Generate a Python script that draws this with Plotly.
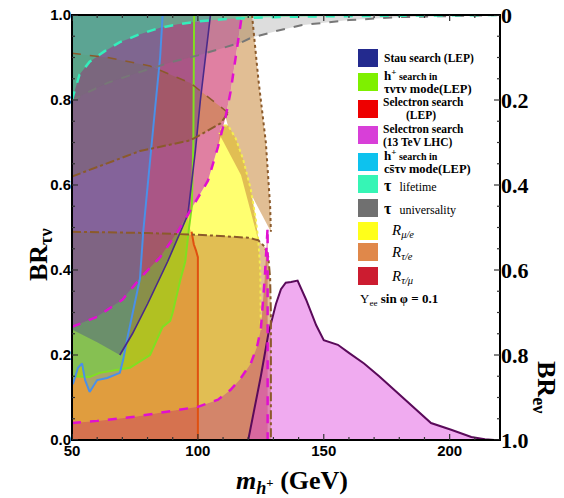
import plotly.graph_objects as go

# ---------------- data (x: m_h+ in GeV, y: BR_tau nu) ----------------
lifetime_x = [50, 53, 57, 63, 69, 77, 85, 92, 100, 110, 120, 130, 150, 180, 220]
lifetime_y = [0.80, 0.86, 0.89, 0.915, 0.936, 0.955, 0.97, 0.978, 0.985, 0.99, 0.993, 0.995, 0.997, 0.999, 1.0]

univ_x = [50, 64, 77, 90, 100, 110, 117, 121, 131, 141, 160, 180, 220]
univ_y = [0.80, 0.84, 0.866, 0.89, 0.905, 0.922, 0.935, 0.946, 0.962, 0.976, 0.988, 0.995, 1.0]

stau_x = [105, 103, 101, 99, 96, 88, 80, 74, 69, 60, 50]
stau_y = [1.0, 0.9, 0.8, 0.68, 0.53, 0.42, 0.32, 0.25, 0.2, 0.23, 0.26]

green_x = [50, 57, 61, 73, 81, 86, 89, 90, 93, 95, 96.5, 97.6, 98.2, 98.5]
green_y = [0.15, 0.148, 0.158, 0.17, 0.20, 0.266, 0.28, 0.30, 0.376, 0.42, 0.50, 0.55, 0.70, 1.0]

selLEP_x = [100, 100, 99.3, 98.4, 97.5]
selLEP_y = [0.0, 0.43, 0.445, 0.46, 0.49]

lhc_x = [120, 122, 125, 128, 131, 133, 134.9, 137, 139.6, 143, 147, 150, 155.6, 160, 166, 172, 179.5, 186, 192.6, 200.6, 208.6, 214, 217.7]
lhc_y = [0.0, 0.06, 0.15, 0.25, 0.32, 0.355, 0.37, 0.372, 0.375, 0.33, 0.27, 0.235, 0.224, 0.205, 0.18, 0.15, 0.11, 0.075, 0.04, 0.024, 0.007, 0.002, 0.0]

cstv_x = [86, 85, 83, 81, 80, 78.3, 77, 74, 72, 70.3, 69, 64, 60, 57, 55.2, 54, 52.4, 50.5, 50]
cstv_y = [1.0, 0.9, 0.78, 0.66, 0.61, 0.49, 0.38, 0.30, 0.24, 0.188, 0.158, 0.146, 0.141, 0.113, 0.141, 0.18, 0.17, 0.134, 0.13]

low_mag_x = [50, 60, 75, 90, 100, 108, 113, 117, 121, 123.5, 125, 126.5, 127.5]
low_mag_y = [0.04, 0.045, 0.055, 0.068, 0.078, 0.095, 0.118, 0.145, 0.18, 0.22, 0.26, 0.376, 0.5]

up_mag_x = [50, 60, 70, 77, 85, 92, 96, 100, 104, 108, 111, 113, 115.5, 117, 117.5]
up_mag_y = [0.266, 0.29, 0.33, 0.38, 0.43, 0.49, 0.53, 0.57, 0.61, 0.69, 0.76, 0.82, 0.92, 0.99, 1.0]

yel_edge_x = [125, 125, 124.8, 124, 123, 121, 118, 115, 112, 110, 108.5]
yel_edge_y = [0.26, 0.3, 0.4, 0.47, 0.52, 0.59, 0.66, 0.71, 0.74, 0.74, 0.72]

rte_low_x = [50, 80, 100, 110, 120, 124, 126.5, 128, 128.7, 129, 129]
rte_low_y = [0.49, 0.487, 0.483, 0.48, 0.476, 0.47, 0.455, 0.43, 0.38, 0.3, 0.0]

rte_L_x = [50, 77, 97, 109, 112]
rte_L_y = [0.62, 0.68, 0.705, 0.745, 0.77]
rte_U_x = [112, 97, 81, 64, 50]
rte_U_y = [0.77, 0.84, 0.88, 0.90, 0.91]

tan_edge_x = [121.5, 124, 127, 128.7, 129]
tan_edge_y = [1.0, 0.85, 0.7, 0.55, 0.49]

# axes ticks
x_major = [50, 100, 150, 200]
x_minor = [v for v in range(60, 220, 10) if v not in (100, 150, 200)]
y_major = [0.0, 0.2, 0.4, 0.6, 0.8, 1.0]
y_major_text = ["0.0", "0.2", "0.4", "0.6", "0.8", "1.0"]
y_minor = [0.05, 0.1, 0.15, 0.25, 0.3, 0.35, 0.45, 0.5, 0.55, 0.65, 0.7, 0.75, 0.85, 0.9, 0.95]
right_text = ["0", "0.2", "0.4", "0.6", "0.8", "1.0"]

# legend
leg_colors = ["#232a8e", "#7ef000", "#ee0000", "#d83fd8", "#0dc2ee", "#36f5b5", "#707070", "#ffff1a", "#e0884a", "#cc1c30"]
leg_centers = [58, 82, 109, 135, 162, 184, 208, 231, 252, 276]

fig = go.Figure()

def region(xs, ys, color):
    fig.add_trace(go.Scatter(x=xs, y=ys, fill="toself", fillcolor=color, mode="lines",
                             line=dict(width=0), showlegend=False, hoverinfo="skip"))

def boundary(xs, ys, color, width, dash="solid"):
    fig.add_trace(go.Scatter(x=xs, y=ys, mode="lines", line=dict(color=color, width=width, dash=dash),
                             showlegend=False, hoverinfo="skip"))

# R mu/e (yellow)
region(low_mag_x[:11] + yel_edge_x + up_mag_x[:10][::-1],
       low_mag_y[:11] + yel_edge_y + up_mag_y[:10][::-1], "rgba(255,255,51,0.7)")
# R tau/mu (crimson)
region(low_mag_x + [127.7, 127.7, 50], low_mag_y + [0.5, 0.0, 0.0], "rgba(205,50,105,0.62)")
region(up_mag_x + [50], up_mag_y + [1.0], "rgba(205,50,105,0.62)")
# R tau/e (orange)
region([50] + rte_low_x + [50], [0.0] + rte_low_y + [0.0], "rgba(200,136,60,0.55)")
region(rte_L_x + rte_U_x, rte_L_y + rte_U_y, "rgba(200,136,60,0.55)")
region(up_mag_x[10:] + tan_edge_x + yel_edge_x[3:][::-1],
       up_mag_y[10:] + tan_edge_y + yel_edge_y[3:][::-1], "rgba(200,136,60,0.55)")
# selectron LEP
region([50] + selLEP_x + green_x[10:] + [50], [0.0] + selLEP_y + green_y[10:] + [1.0], "rgba(224,60,0,0.25)")
# selectron LHC
region(lhc_x, lhc_y, "rgba(221,68,221,0.45)")
# h+ -> tau nu (LEP)
region(green_x[:11] + up_mag_x[:7][::-1], green_y[:11] + up_mag_y[:7][::-1], "rgba(119,238,0,0.45)")
# h+ -> c s tau nu (LEP)
region(cstv_x + [50], cstv_y + [1.0], "rgba(0,190,238,0.24)")
# stau
region(stau_x + [50], stau_y + [1.0], "rgba(45,30,165,0.3)")
# tau universality
region(univ_x + [220, 50], univ_y + [1.0, 1.0], "rgba(112,112,112,0.24)")
# tau lifetime
region(lifetime_x + [50], lifetime_y + [1.0], "rgba(51,240,150,0.45)")

# boundaries
boundary(lhc_x, lhc_y, "#5a0a5a", 2)
boundary(selLEP_x, selLEP_y, "#e05010", 2)
boundary(green_x, green_y, "#80e020", 2)
boundary(cstv_x, cstv_y, "#4a90e8", 2)
boundary(stau_x[:9], stau_y[:9], "#4a2a8a", 1.6)
boundary(yel_edge_x, yel_edge_y, "#f4ee50", 2, "dot")
boundary(rte_low_x, rte_low_y, "#8b5a2b", 2, "dashdot")
boundary(rte_L_x, rte_L_y, "#8b5a2b", 2, "dashdot")
boundary(rte_U_x, rte_U_y, "#8b5a2b", 1.5, "dash")
boundary(tan_edge_x, tan_edge_y, "#8b5a2b", 2, "dot")
boundary(univ_x, univ_y, "#777777", 2, "dash")
boundary(low_mag_x + [127.7, 127.7], low_mag_y + [0.5, 0.0], "#e010d0", 2.5, "dash")
boundary(up_mag_x, up_mag_y, "#e010d0", 2.5, "dash")
boundary(lifetime_x, lifetime_y, "#33eebb", 2.5, "dash")

W, H = 564, 498
L, R, T, B = 72, 64, 15, 58

def px(x):
    return (x - 72) / 428

def py(y):
    return (440 - y) / 425

# frame and inside ticks (all four sides)
fig.add_shape(type="rect", xref="paper", yref="paper", x0=0, x1=1, y0=0, y1=1,
              line=dict(color="black", width=2), layer="above")
for vals, ln in ((x_major, 6), (x_minor, 3)):
    for v in vals:
        for y0, y1 in ((0, ln / 425), (1, 1 - ln / 425)):
            fig.add_shape(type="line", xref="x", yref="paper", x0=v, x1=v, y0=y0, y1=y1,
                          line=dict(color="#333", width=1.2), layer="above")
for vals, ln in ((y_major, 6), (y_minor, 3)):
    for v in vals:
        for x0, x1 in ((0, ln / 428), (1, 1 - ln / 428)):
            fig.add_shape(type="line", xref="paper", yref="y", x0=x0, x1=x1, y0=v, y1=v,
                          line=dict(color="#333", width=1.2), layer="above")

for c, yc in zip(leg_colors, leg_centers):
    fig.add_shape(type="rect", xref="paper", yref="paper", x0=px(358), x1=px(378),
                  y0=py(yc + 9), y1=py(yc - 9), fillcolor=c, line=dict(width=0))

serif = "Liberation Serif"
def txt(x, y, s, size=12, anchor="left"):
    fig.add_annotation(xref="paper", yref="paper", x=px(x), y=py(y), text=s, showarrow=False,
                       xanchor=anchor, yanchor="middle", font=dict(family=serif, size=size, color="black"))

txt(382, 58, "<b>Stau search (LEP)</b>", 11.5)
txt(382, 75, "<b>h<sup>+</sup></b><span style='font-size:10px'><b> search in</b></span>", 13)
txt(382, 89, "<b>τντν mode(LEP)</b>", 12.5)
txt(381, 102, "<b>Selectron search</b>", 11.5)
txt(404, 115, "<b>(LEP)</b>", 11.5)
txt(381, 129, "<b>Selectron search</b>", 11.5)
txt(381, 142, "<b>(13 TeV LHC)</b>", 11.5)
txt(382, 155, "<b>h<sup>+</sup></b><span style='font-size:10px'><b> search in</b></span>", 13)
txt(382, 169, "<b>cs̄τν mode(LEP)</b>", 12.5)
txt(382, 185, "<b>τ</b>  <span style='font-size:12px'>lifetime</span>", 16)
txt(382, 208, "<b>τ</b>  <span style='font-size:12px'>universality</span>", 16)
txt(389, 231, "<i>R</i><sub><i>μ/e</i></sub>", 15)
txt(389, 253, "<i>R</i><sub><i>τ/e</i></sub>", 15)
txt(389, 277, "<i>R</i><sub><i>τ/μ</i></sub>", 15)
txt(358, 299, "Y<sub>ee</sub> <b>sin φ = 0.1</b>", 13)

fig.add_annotation(xref="paper", yref="paper", x=px(22), y=py(255), text="<b>BR<sub>τν</sub></b>",
                   showarrow=False, textangle=-90, font=dict(family=serif, size=26, color="black"))
fig.add_annotation(xref="paper", yref="paper", x=px(563), y=py(415), text="<b>BR<sub>eν</sub></b>",
                   showarrow=False, textangle=90, font=dict(family=serif, size=26, color="black"))
fig.add_annotation(xref="paper", yref="paper", x=px(292), y=py(500),
                   text="<b><i>m</i><sub><i>h</i><sup>+</sup></sub> (GeV)</b>",
                   showarrow=False, font=dict(family=serif, size=26, color="black"))

fig.add_trace(go.Scatter(x=[50], y=[0], yaxis="y2", mode="markers", marker=dict(opacity=0),
                         showlegend=False, hoverinfo="skip"))

fig.update_layout(
    width=W, height=H, margin=dict(l=L, r=R, t=T, b=B, autoexpand=False),
    paper_bgcolor="white", plot_bgcolor="white", showlegend=False,
    xaxis=dict(range=[50, 220], tickvals=x_major, ticks="", showline=False, showgrid=False,
               zeroline=False, ticklabeloverflow="allow",
               tickfont=dict(family="Liberation Sans", size=15, color="black", weight="bold")),
    yaxis=dict(range=[0, 1], tickvals=y_major, ticktext=y_major_text, ticks="", showline=False,
               showgrid=False, zeroline=False, ticklabeloverflow="allow",
               tickfont=dict(family="Liberation Sans", size=15, color="black", weight="bold")),
    yaxis2=dict(range=[1, 0], overlaying="y", side="right", tickvals=y_major, ticktext=right_text,
                ticks="", showgrid=False, zeroline=False, showline=False, ticklabeloverflow="allow",
                tickfont=dict(family=serif, size=22, color="black", weight="bold")),
)

fig.write_html("out.html", post_script="document.body.style.margin='0px';",
               config={"displayModeBar": False})
